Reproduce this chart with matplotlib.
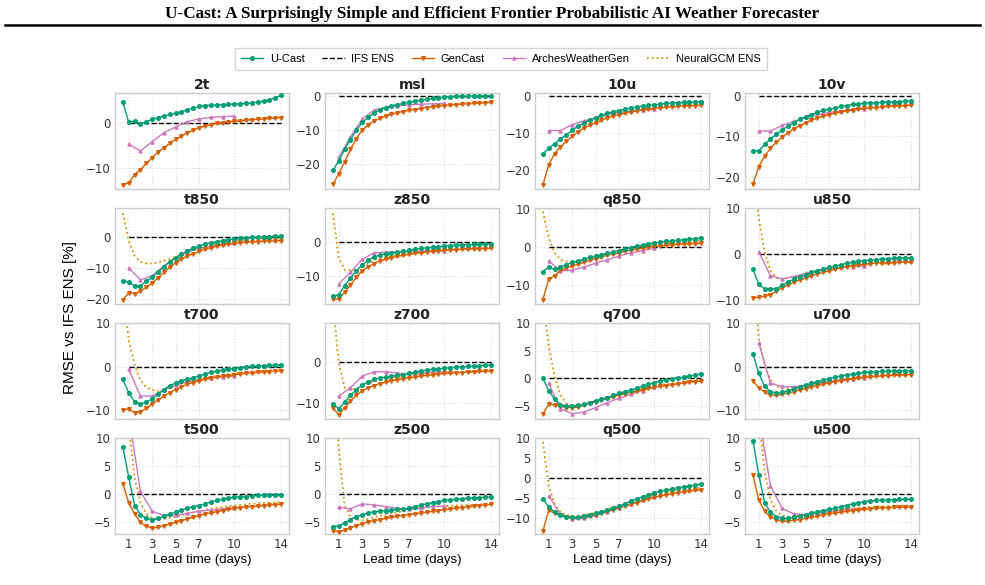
import numpy as np
import matplotlib
matplotlib.use("Agg")
import matplotlib.pyplot as plt
from matplotlib.lines import Line2D

# lead times (days)
lead = [0.5, 1.0, 1.5, 2.0, 2.5, 3.0, 3.5, 4.0, 4.5, 5.0, 5.5, 6.0, 6.5, 7.0,
        7.5, 8.0, 8.5, 9.0, 9.5, 10.0, 10.5, 11.0, 11.5, 12.0, 12.5, 13.0, 13.5, 14.0]
lead_arches = [1, 2, 3, 4, 5, 6, 7, 8, 9, 10]

variables = ["2t", "msl", "10u", "10v",
             "t850", "z850", "q850", "u850",
             "t700", "z700", "q700", "u700",
             "t500", "z500", "q500", "u500"]

ucast = {
    "2t": [4.7, 0.3, 0.5, -0.1, 0.4, 0.9, 1.3, 1.7, 2.0, 2.3, 2.6, 3.0, 3.4, 3.8,
           4.0, 4.1, 4.1, 4.2, 4.3, 4.3, 4.4, 4.5, 4.6, 4.8, 5.0, 5.3, 5.8, 6.3],
    "msl": [-22.0, -19.2, -15.8, -12.9, -10.1, -7.8, -6.3, -5.0, -4.0, -3.4, -2.9, -2.5, -2.2, -1.9,
            -1.5, -1.2, -0.9, -0.7, -0.5, -0.3, -0.2, -0.1, -0.05, 0.0, 0.0, 0.05, 0.1, 0.1],
    "10u": [-15.5, -14.1, -12.8, -11.6, -10.4, -9.2, -8.1, -7.2, -6.5, -5.8, -5.2, -4.7, -4.2, -3.9,
            -3.5, -3.2, -3.0, -2.7, -2.5, -2.3, -2.2, -2.0, -1.9, -1.8, -1.7, -1.6, -1.55, -1.5],
    "10v": [-13.6, -13.6, -12.0, -10.7, -9.5, -8.4, -7.5, -6.6, -5.8, -5.1, -4.6, -4.1, -3.6, -3.3,
            -3.0, -2.6, -2.4, -2.1, -2.0, -1.8, -1.7, -1.65, -1.6, -1.5, -1.45, -1.4, -1.3, -1.2],
    "t850": [-14.0, -14.5, -15.8, -15.6, -14.2, -12.9, -11.3, -9.5, -7.9, -6.6, -5.5, -4.4, -3.6, -2.9,
             -2.3, -1.8, -1.5, -1.1, -0.8, -0.6, -0.4, -0.2, -0.1, 0.0, 0.1, 0.2, 0.3, 0.4],
    "z850": [-16.0, -15.5, -12.8, -10.6, -8.4, -6.7, -5.3, -4.4, -3.8, -3.4, -3.1, -2.9, -2.7, -2.4,
             -2.1, -1.8, -1.7, -1.5, -1.3, -1.1, -1.0, -0.9, -0.8, -0.7, -0.65, -0.6, -0.55, -0.5],
    "q850": [-6.4, -5.2, -5.8, -5.3, -4.6, -4.0, -3.6, -3.2, -2.7, -2.3, -2.0, -1.6, -1.3, -0.9,
             -0.4, -0.1, 0.3, 0.5, 0.9, 1.1, 1.3, 1.5, 1.6, 1.8, 1.9, 2.1, 2.2, 2.5],
    "u850": [-3.3, -6.5, -7.6, -7.6, -7.5, -6.8, -6.1, -5.4, -4.9, -4.5, -4.0, -3.6, -3.2, -2.9,
             -2.6, -2.3, -2.0, -1.8, -1.6, -1.4, -1.3, -1.2, -1.1, -1.0, -0.95, -0.9, -0.85, -0.8],
    "t700": [-2.9, -6.0, -8.0, -8.5, -8.1, -7.3, -6.3, -5.2, -4.3, -3.7, -3.2, -2.9, -2.5, -2.1,
             -1.7, -1.3, -1.0, -0.8, -0.5, -0.4, -0.2, 0.0, 0.1, 0.2, 0.2, 0.3, 0.4, 0.5],
    "z700": [-10.2, -11.4, -9.8, -8.1, -6.7, -5.6, -4.8, -4.2, -3.8, -3.6, -3.4, -3.2, -3.0, -2.7,
             -2.4, -2.1, -1.9, -1.7, -1.6, -1.4, -1.3, -1.2, -1.1, -1.0, -0.9, -0.8, -0.75, -0.7],
    "q700": [0.0, -2.2, -3.8, -4.8, -5.0, -5.0, -4.9, -4.7, -4.4, -4.1, -3.8, -3.5, -3.1, -2.7,
             -2.4, -2.1, -1.8, -1.4, -1.1, -0.8, -0.5, -0.3, -0.1, 0.1, 0.2, 0.4, 0.6, 0.8],
    "u700": [3.0, -1.5, -4.5, -5.7, -6.0, -5.8, -5.5, -5.0, -4.6, -4.2, -3.8, -3.4, -3.0, -2.7,
             -2.4, -2.1, -1.9, -1.7, -1.5, -1.3, -1.2, -1.1, -1.05, -1.0, -0.95, -0.9, -0.9, -0.9],
    "t500": [8.4, 3.0, -2.0, -3.6, -4.3, -4.5, -4.3, -3.9, -3.5, -3.2, -2.8, -2.5, -2.2, -2.0,
             -1.7, -1.4, -1.1, -0.9, -0.7, -0.5, -0.45, -0.4, -0.3, -0.2, -0.2, -0.2, -0.15, -0.1],
    "z500": [-5.8, -5.6, -5.1, -4.5, -4.0, -3.6, -3.3, -3.1, -3.0, -2.9, -2.8, -2.7, -2.6, -2.5,
             -2.2, -1.9, -1.7, -1.5, -1.3, -1.1, -1.0, -0.9, -0.8, -0.7, -0.65, -0.6, -0.55, -0.5],
    "q500": [-5.3, -7.2, -8.5, -9.3, -9.7, -9.8, -9.7, -9.5, -9.2, -8.8, -8.4, -8.0, -7.5, -7.0,
             -6.4, -5.8, -5.2, -4.7, -4.2, -3.7, -3.3, -3.0, -2.7, -2.4, -2.2, -2.0, -1.8, -1.5],
    "u500": [9.5, 3.5, -1.5, -3.2, -4.0, -4.3, -4.3, -4.1, -3.9, -3.6, -3.3, -3.1, -2.9, -2.7,
             -2.5, -2.2, -2.0, -1.7, -1.5, -1.3, -1.2, -1.1, -1.05, -1.0, -0.95, -0.9, -0.9, -0.9],
}

gencast = {
    "2t": [-13.8, -13.4, -11.5, -10.4, -9.0, -7.7, -6.4, -5.5, -4.5, -3.6, -2.9, -2.1, -1.5, -1.0,
           -0.6, -0.3, 0.0, 0.15, 0.3, 0.45, 0.6, 0.7, 0.8, 0.9, 1.0, 1.1, 1.2, 1.3],
    "msl": [-26.2, -23.0, -19.5, -15.8, -12.6, -10.1, -8.6, -7.4, -6.6, -5.9, -5.4, -4.9, -4.6, -4.2,
            -4.0, -3.7, -3.4, -3.2, -3.0, -2.8, -2.7, -2.5, -2.4, -2.3, -2.2, -2.1, -2.0, -1.9],
    "10u": [-23.9, -18.5, -15.5, -13.7, -12.2, -10.8, -9.6, -8.6, -7.9, -7.2, -6.5, -5.9, -5.4, -5.0,
            -4.6, -4.2, -4.0, -3.7, -3.5, -3.3, -3.2, -3.0, -2.9, -2.8, -2.7, -2.6, -2.55, -2.5],
    "10v": [-21.9, -17.5, -14.9, -13.0, -11.4, -10.2, -9.1, -8.1, -7.4, -6.6, -6.0, -5.5, -5.0, -4.6,
            -4.3, -4.0, -3.7, -3.5, -3.3, -3.1, -3.0, -2.9, -2.75, -2.6, -2.55, -2.5, -2.4, -2.3],
    "t850": [-20.1, -18.0, -18.2, -17.4, -16.1, -14.8, -13.1, -11.3, -9.7, -8.3, -7.1, -6.1, -5.3, -4.6,
             -3.9, -3.4, -3.0, -2.5, -2.2, -2.0, -1.8, -1.6, -1.5, -1.4, -1.35, -1.3, -1.2, -1.1],
    "z850": [-16.9, -16.7, -14.8, -12.6, -10.4, -8.4, -7.3, -6.3, -5.5, -5.0, -4.6, -4.2, -3.9, -3.6,
             -3.3, -3.1, -2.9, -2.7, -2.6, -2.4, -2.3, -2.2, -2.1, -2.0, -1.95, -1.9, -1.85, -1.8],
    "q850": [-13.7, -8.3, -7.5, -6.0, -5.5, -4.9, -4.5, -4.0, -3.4, -3.0, -2.6, -2.1, -1.8, -1.5,
             -1.1, -0.8, -0.5, -0.3, 0.0, 0.2, 0.3, 0.5, 0.6, 0.7, 0.8, 0.9, 0.95, 1.0],
    "u850": [-9.5, -9.4, -9.2, -8.8, -8.1, -7.3, -6.7, -6.1, -5.6, -5.2, -4.7, -4.3, -4.0, -3.6,
             -3.3, -3.0, -2.7, -2.5, -2.3, -2.2, -2.05, -1.9, -1.9, -1.9, -1.85, -1.8, -1.75, -1.7],
    "t700": [-9.8, -9.7, -10.5, -10.3, -9.5, -8.5, -7.6, -6.7, -5.9, -5.2, -4.6, -4.0, -3.6, -3.2,
             -2.9, -2.6, -2.4, -2.1, -2.0, -1.8, -1.65, -1.5, -1.4, -1.3, -1.2, -1.1, -1.0, -0.9],
    "z700": [-11.2, -12.9, -11.2, -9.5, -8.1, -7.0, -6.3, -5.7, -5.2, -4.9, -4.5, -4.3, -4.0, -3.8,
             -3.6, -3.4, -3.2, -3.1, -2.9, -2.7, -2.65, -2.6, -2.5, -2.4, -2.3, -2.2, -2.15, -2.1],
    "q700": [-6.4, -4.7, -4.8, -5.0, -5.3, -5.3, -5.2, -4.8, -4.5, -4.2, -3.9, -3.6, -3.3, -3.0,
             -2.8, -2.5, -2.3, -2.1, -1.8, -1.6, -1.45, -1.3, -1.15, -1.0, -0.85, -0.7, -0.6, -0.5],
    "u700": [-3.2, -4.8, -5.8, -6.4, -6.5, -6.3, -6.0, -5.7, -5.3, -5.0, -4.6, -4.3, -4.0, -3.7,
             -3.4, -3.2, -3.0, -2.8, -2.6, -2.4, -2.3, -2.2, -2.1, -2.0, -1.95, -1.9, -1.85, -1.8],
    "t500": [1.8, -1.5, -3.5, -5.0, -5.7, -6.0, -5.9, -5.6, -5.3, -5.0, -4.7, -4.4, -4.1, -3.8,
             -3.5, -3.3, -3.1, -2.9, -2.7, -2.5, -2.4, -2.3, -2.2, -2.1, -2.0, -1.9, -1.85, -1.8],
    "z500": [-6.5, -6.7, -6.4, -6.0, -5.6, -5.2, -4.9, -4.7, -4.5, -4.3, -4.1, -3.95, -3.8, -3.65,
             -3.5, -3.35, -3.2, -3.05, -2.9, -2.75, -2.6, -2.5, -2.4, -2.3, -2.15, -2.0, -1.9, -1.8],
    "q500": [-13.2, -8.0, -8.8, -9.3, -9.7, -9.9, -9.9, -9.7, -9.4, -9.1, -8.7, -8.3, -7.9, -7.4,
             -7.0, -6.5, -6.1, -5.6, -5.2, -4.8, -4.5, -4.2, -3.9, -3.7, -3.5, -3.3, -3.1, -3.0],
    "u500": [3.5, -1.0, -3.0, -4.0, -4.5, -4.8, -4.8, -4.6, -4.5, -4.3, -4.1, -3.9, -3.7, -3.5,
             -3.35, -3.2, -3.05, -2.9, -2.8, -2.7, -2.6, -2.5, -2.45, -2.4, -2.35, -2.3, -2.3, -2.3],
}

arches = {
    "2t": [-4.7, -6.2, -4.1, -2.1, -0.8, 0.4, 1.0, 1.35, 1.5, 1.65],
    "msl": [-18.2, -12.1, -6.8, -4.2, -3.3, -2.9, -2.6, -2.4, -2.3, -2.2],
    "10u": [-9.3, -9.3, -7.7, -6.7, -5.9, -5.0, -4.4, -4.1, -3.8, -3.6],
    "10v": [-8.7, -8.7, -7.3, -6.3, -5.3, -4.6, -4.1, -3.7, -3.4, -3.2],
    "t850": [-9.9, -13.8, -12.4, -9.2, -6.6, -4.8, -3.6, -2.9, -2.3, -2.0],
    "z850": [-12.3, -8.9, -5.0, -3.2, -2.9, -2.9, -2.8, -2.6, -2.6, -2.5],
    "q850": [-3.6, -6.2, -6.0, -5.2, -4.2, -3.3, -2.3, -1.5, -0.9, -0.3],
    "u850": [0.5, -4.7, -5.4, -4.9, -4.2, -3.6, -3.2, -2.9, -2.7, -2.6],
    "t700": [-0.6, -6.7, -6.7, -5.3, -4.2, -3.4, -2.9, -2.5, -2.3, -2.1],
    "z700": [-8.3, -6.2, -3.4, -2.3, -2.3, -2.6, -2.9, -2.6, -2.4, -2.3],
    "q700": [-0.9, -5.5, -6.4, -6.1, -5.3, -4.4, -3.6, -2.9, -2.2, -1.6],
    "u700": [5.5, -3.8, -4.5, -4.6, -4.3, -3.8, -3.4, -3.0, -2.7, -2.5],
    "t500": [14.0, 0.5, -3.0, -3.8, -3.7, -3.4, -3.0, -2.8, -2.6, -2.5],
    "z500": [-2.3, -2.6, -1.7, -1.9, -2.2, -2.5, -2.7, -2.4, -2.2, -2.1],
    "q500": [-4.5, -9.0, -10.2, -10.0, -9.3, -8.4, -7.4, -6.5, -5.6, -4.8],
    "u500": [14.0, 1.5, -2.5, -3.5, -3.6, -3.4, -3.1, -2.8, -2.6, -2.5],
}

neuralgcm = {
    "t850": [7.7, -1.3, -6.0, -7.9, -8.5, -8.5, -8.1, -7.6, -7.1, -6.3, -5.5, -4.7, -4.0, -3.5,
             -3.0, -2.5, -2.1, -1.8, -1.5, -1.3, -1.1, -0.8, -0.65, -0.5, -0.4, -0.3, -0.2, -0.1],
    "z850": [8.5, -4.6, -8.1, -8.3, -8.1, -7.3, -6.3, -5.3, -4.8, -4.4, -4.1, -3.8, -3.6, -3.4,
             -3.2, -3.0, -2.8, -2.6, -2.45, -2.3, -2.2, -2.1, -2.0, -1.9, -1.8, -1.7, -1.65, -1.6],
    "q850": [9.3, 2.4, -1.5, -3.2, -3.8, -3.9, -3.8, -3.4, -3.0, -2.6, -2.1, -1.7, -1.4, -1.0,
             -0.65, -0.3, 0.0, 0.2, 0.45, 0.7, 0.85, 1.0, 1.15, 1.3, 1.4, 1.5, 1.65, 1.8],
    "u850": [20.0, 7.9, 0.4, -3.6, -5.2, -5.4, -5.2, -4.9, -4.6, -4.3, -4.0, -3.7, -3.45, -3.2,
             -3.05, -2.9, -2.75, -2.6, -2.45, -2.3, -2.25, -2.2, -2.1, -2.0, -1.95, -1.9, -1.9, -1.9],
    "t700": [18.0, 6.1, 0.4, -3.1, -4.7, -5.3, -5.5, -5.2, -4.7, -4.3, -3.8, -3.4, -3.1, -2.8,
             -2.55, -2.3, -2.05, -1.8, -1.65, -1.5, -1.35, -1.2, -1.1, -1.0, -0.9, -0.8, -0.7, -0.6],
    "z700": [15.0, -0.2, -6.2, -6.7, -6.4, -5.9, -5.2, -4.7, -4.3, -4.0, -3.8, -3.6, -3.4, -3.2,
             -3.1, -3.0, -2.85, -2.7, -2.65, -2.6, -2.5, -2.4, -2.35, -2.3, -2.25, -2.2, -2.2, -2.2],
    "q700": [14.0, 5.8, 0.3, -3.0, -4.5, -5.0, -5.0, -4.8, -4.5, -4.2, -3.9, -3.6, -3.3, -3.0,
             -2.7, -2.4, -2.15, -1.9, -1.65, -1.4, -1.2, -1.0, -0.85, -0.7, -0.55, -0.4, -0.3, -0.2],
    "u700": [25.0, 6.5, 0.5, -3.0, -4.5, -4.9, -4.9, -4.7, -4.5, -4.3, -4.05, -3.8, -3.55, -3.3,
             -3.1, -2.9, -2.75, -2.6, -2.5, -2.4, -2.3, -2.2, -2.1, -2.0, -1.95, -1.9, -1.9, -1.9],
    "t500": [30.0, 12.0, 3.0, -1.5, -3.5, -4.3, -4.5, -4.4, -4.2, -4.0, -3.75, -3.5, -3.25, -3.0,
             -2.8, -2.6, -2.45, -2.3, -2.15, -2.0, -1.9, -1.8, -1.7, -1.6, -1.55, -1.5, -1.45, -1.4],
    "z500": [25.0, 8.0, -2.0, -4.0, -4.5, -4.6, -4.4, -4.1, -3.85, -3.6, -3.4, -3.2, -3.0, -2.8,
             -2.65, -2.5, -2.4, -2.3, -2.2, -2.1, -2.05, -2.0, -1.95, -1.9, -1.85, -1.8, -1.75, -1.7],
    "q500": [9.0, -2.0, -6.5, -8.5, -9.3, -9.5, -9.4, -9.2, -8.9, -8.6, -8.2, -7.8, -7.3, -6.8,
             -6.3, -5.8, -5.3, -4.9, -4.5, -4.1, -3.8, -3.5, -3.2, -3.0, -2.8, -2.6, -2.5, -2.4],
    "u500": [30.0, 14.0, 4.0, -1.0, -3.0, -3.8, -4.0, -3.9, -3.75, -3.6, -3.45, -3.3, -3.15, -3.0,
             -2.85, -2.7, -2.6, -2.5, -2.4, -2.3, -2.25, -2.2, -2.15, -2.1, -2.05, -2.0, -2.0, -2.0],
}

ylims = {
    "2t": (-14.8, 6.9), "msl": (-27.6, 1.0), "10u": (-25.1, 0.9), "10v": (-23.1, 0.8),
    "t850": (-21.6, 9.5), "z850": (-18.3, 10.2), "q850": (-14.9, 10.3), "u850": (-10.9, 10.1),
    "t700": (-12.0, 10.1), "z700": (-14.0, 9.8), "q700": (-7.4, 10.1), "u700": (-12.0, 10.1),
    "t500": (-7.1, 10.05), "z500": (-7.1, 10.05), "q500": (-14.0, 10.05), "u500": (-7.1, 10.05),
}
yticks = {
    "2t": [-10, 0], "msl": [-20, -10, 0], "10u": [-20, -10, 0], "10v": [-20, -10, 0],
    "t850": [-20, -10, 0], "z850": [-10, 0], "q850": [-10, 0, 10], "u850": [-10, 0, 10],
    "t700": [-10, 0, 10], "z700": [-10, 0], "q700": [-5, 0, 5, 10], "u700": [-10, 0, 10],
    "t500": [-5, 0, 5, 10], "z500": [-5, 0, 5, 10], "q500": [-10, -5, 0, 5, 10], "u500": [-5, 0, 5, 10],
}
xticks = [1, 3, 5, 7, 10, 14]

c_ucast = "#029e73"
c_gencast = "#d55e00"
c_arches = "#cc78bc"
c_ngcm = "#de8f05"

W, H = 985, 585
fig = plt.figure(figsize=(W / 100, H / 100), dpi=100)

# paper header
fig.text(0.5, 1 - 14 / H, "U-Cast: A Surprisingly Simple and Efficient Frontier Probabilistic AI Weather Forecaster",
         ha="center", va="center", fontsize=12.3, fontweight="bold", family="Liberation Serif")
fig.add_artist(Line2D([5 / W, 980 / W], [1 - 25 / H, 1 - 25 / H], color="black", lw=1.8))

left0, top0 = 115, 92.7
aw, ah = 174, 96.5
dx, dy = 210, 115
ms_main = 2.6

for i, var in enumerate(variables):
    r, c = divmod(i, 4)
    x0 = left0 + c * dx
    y0 = top0 + r * dy
    ax = fig.add_axes([x0 / W, 1 - (y0 + ah) / H, aw / W, ah / H])
    ax.grid(True, color="#dddddd", ls=":", lw=0.8)
    ax.set_axisbelow(True)
    for s in ax.spines.values():
        s.set_color("#cccccc")
        s.set_linewidth(1.0)

    ax.plot([lead[1], lead[-1]], [0, 0], color="black", ls="--", lw=1.0, zorder=2)
    if var in neuralgcm:
        ax.plot(lead, neuralgcm[var], color=c_ngcm, ls=":", lw=1.3, zorder=3)
    ax.plot(lead_arches, arches[var], color=c_arches, marker="^", ms=2.2, lw=1.0, zorder=4)
    ax.plot(lead, gencast[var], color=c_gencast, marker="v", ms=ms_main, lw=1.0, zorder=5)
    ax.plot(lead, ucast[var], color=c_ucast, marker="o", ms=ms_main, lw=1.0, zorder=6)

    ax.set_xlim(-0.175, 14.675)
    ax.set_ylim(*ylims[var])
    ax.set_xticks(xticks)
    ax.set_yticks(yticks[var])
    ax.tick_params(length=0, labelsize=8.5, pad=3, colors="#333333")
    ax.set_title(var, fontsize=10, fontweight="bold", pad=3, color="#222222")
    if r < 3:
        ax.tick_params(labelbottom=False)
    else:
        ax.set_xlabel("Lead time (days)", fontsize=9.5, family="Liberation Sans", labelpad=2)

fig.text(70 / W, 0.5 - 25 / H, "RMSE vs IFS ENS [%]", rotation=90, ha="center", va="center",
         fontsize=11, family="Liberation Sans")

handles = [
    Line2D([], [], color=c_ucast, marker="o", ms=ms_main, lw=1.0),
    Line2D([], [], color="black", ls="--", lw=1.0),
    Line2D([], [], color=c_gencast, marker="v", ms=ms_main, lw=1.0),
    Line2D([], [], color=c_arches, marker="^", ms=2.2, lw=1.0),
    Line2D([], [], color=c_ngcm, ls=":", lw=1.3),
]
labels = ["U-Cast", "IFS ENS", "GenCast", "ArchesWeatherGen", "NeuralGCM ENS"]
leg = fig.legend(handles, labels, loc="center", bbox_to_anchor=(501 / W, 1 - 59 / H), ncol=5,
                 prop={"family": "Liberation Sans", "size": 8}, frameon=True,
                 fancybox=False, handlelength=2.0, columnspacing=1.6, handletextpad=0.6,
                 borderpad=0.5)
leg.get_frame().set_edgecolor("#cccccc")

fig.savefig("out.png", dpi=100)
